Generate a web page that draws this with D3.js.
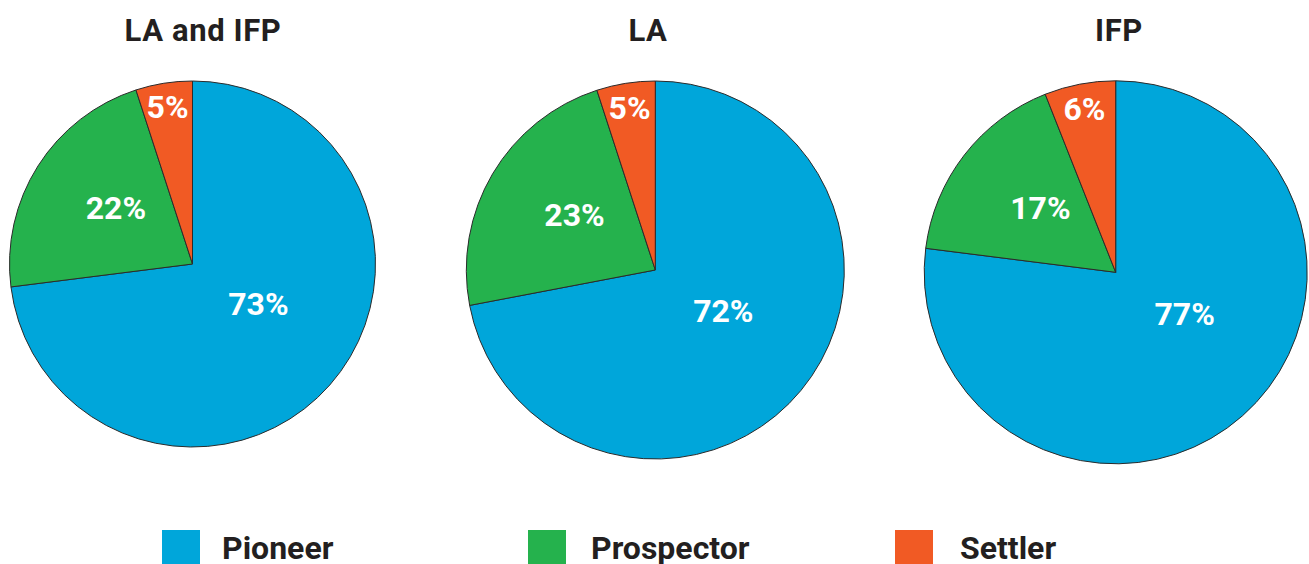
<!DOCTYPE html>
<html>
<head>
<meta charset="utf-8">
<script src="https://cdn.jsdelivr.net/npm/d3@7"></script>
<style>
  html, body { margin: 0; padding: 0; background: #fff; }
  svg { display: block; font-family: Roboto, "DejaVu Sans", sans-serif; }
</style>
</head>
<body>
<div id="chart"></div>
<script>
// ---------------------------------------------------------------------------
// Data

const categories = ['Pioneer', 'Prospector', 'Settler'];
const chartTitles = ['LA and IFP', 'LA', 'IFP'];
const laAndIfpValues = [73, 22, 5];
const laValues = [72, 23, 5];
const ifpValues = [77, 17, 6];

// ---------------------------------------------------------------------------
// Layout / style

const width = 1309;
const height = 564;
const colors = ['#00A6DA', '#25B24D', '#F15A24'];

// pie centre, radius and title position for each chart
const pieLayout = [
  { cx: 192.5, cy: 264, r: 183, titleX: 203 },
  { cx: 655.3, cy: 270, r: 189, titleX: 648 },
  { cx: 1115.7, cy: 272.3, r: 191.5, titleX: 1119 }
];

// where the % label sits inside each slice
// rf = radius fraction, af = fraction along the slice, deg = fixed angle
const labelPlacement = [
  { rf: 0.42, deg: 121 },
  { rf: 0.52, af: 0.55 },
  { rf: 0.87, af: 0.5 }
];

const legendX = [162, 528, 895];
const legendTextX = [222, 591, 960];

const color = d3.scaleOrdinal().domain(categories).range(colors);

const svg = d3.select('#chart').append('svg')
  .attr('width', width)
  .attr('height', height);

const pie = d3.pie().sort(null).value((d) => d.value);

const seriesList = [laAndIfpValues, laValues, ifpValues];

// angle (radians, clockwise from 12 o'clock) of a slice's label
function labelAngle(d) {
  const p = labelPlacement[d.data.index];
  if (p.deg !== undefined) {
    return p.deg * Math.PI / 180;
  }
  return d.startAngle + (d.endAngle - d.startAngle) * p.af;
}

seriesList.forEach((values, i) => {
  const layout = pieLayout[i];
  const data = categories.map((c, k) => ({ category: c, value: values[k], index: k }));
  const arcs = pie(data);
  const arc = d3.arc().innerRadius(0).outerRadius(layout.r);

  const g = svg.append('g')
    .attr('transform', `translate(${layout.cx},${layout.cy})`);

  g.selectAll('path.slice')
    .data(arcs)
    .enter().append('path')
    .attr('class', 'slice')
    .attr('d', arc)
    .attr('fill', (d) => color(d.data.category))
    .attr('stroke', '#2b2b2b')
    .attr('stroke-width', 1)
    .attr('stroke-linejoin', 'round');

  g.selectAll('text.pct')
    .data(arcs)
    .enter().append('text')
    .attr('class', 'pct')
    .attr('x', (d) => Math.sin(labelAngle(d)) * layout.r * labelPlacement[d.data.index].rf)
    .attr('y', (d) => -Math.cos(labelAngle(d)) * layout.r * labelPlacement[d.data.index].rf)
    .attr('dy', '0.36em')
    .attr('text-anchor', 'middle')
    .attr('fill', '#fff')
    .attr('font-size', 32)
    .attr('font-weight', 'bold')
    .text((d) => `${d.data.value}%`);

  svg.append('text')
    .attr('x', layout.titleX)
    .attr('y', 41)
    .attr('text-anchor', 'middle')
    .attr('fill', '#231f20')
    .attr('font-size', 31)
    .attr('font-weight', 'bold')
    .attr('letter-spacing', 0.6)
    .text(chartTitles[i]);
});

// legend
const legend = svg.selectAll('g.legend')
  .data(categories)
  .enter().append('g')
  .attr('class', 'legend');

legend.append('rect')
  .attr('x', (d, i) => legendX[i])
  .attr('y', 530)
  .attr('width', 38)
  .attr('height', 38)
  .attr('fill', (d) => color(d));

legend.append('text')
  .attr('x', (d, i) => legendTextX[i])
  .attr('y', 559)
  .attr('fill', '#231f20')
  .attr('font-size', 32)
  .attr('font-weight', 'bold')
  .text((d) => d);
</script>
</body>
</html>
